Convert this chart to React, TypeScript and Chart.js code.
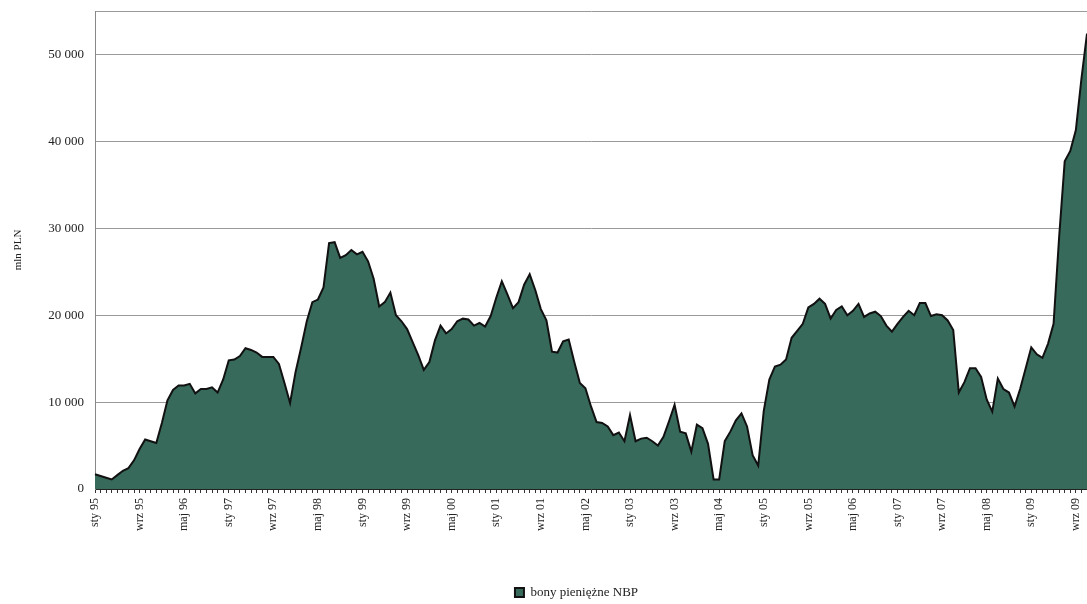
import React, { useEffect, useRef } from 'react';
import { Chart, registerables } from 'chart.js';

Chart.register(...registerables);

const MONTHS = ['sty', 'lut', 'mar', 'kwi', 'maj', 'cze', 'lip', 'sie', 'wrz', 'paź', 'lis', 'gru'];
const START_YEAR = 1995;
const LABEL_EVERY = 8;
const SERIES_LABEL = 'bony pieniężne NBP';
const Y_TITLE = 'mln PLN';
const Y_MAX = 55000;
const Y_TICKS = [0, 10000, 20000, 30000, 40000, 50000];

// Monthly values, mln PLN, from sty 95
const VALUES_1995_1998 = [
  1700, 1500, 1300, 1100, 1600, 2100, 2400, 3300, 4600, 5700, 5500, 5300,
  7600, 10200, 11400, 11900, 11900, 12100, 11000, 11500, 11500, 11700, 11100, 12600,
  14800, 14900, 15300, 16200, 16000, 15700, 15200, 15200, 15200, 14400, 12200, 9900,
  13500, 16300, 19300, 21500, 21800, 23200, 28300, 28400, 26600, 26900, 27500, 27000,
];
const VALUES_1999_2002 = [
  27300, 26200, 24200, 21000, 21500, 22600, 20000, 19300, 18400, 16900, 15400, 13700,
  14600, 17100, 18800, 17900, 18400, 19300, 19600, 19500, 18800, 19100, 18700, 19900,
  22000, 23900, 22400, 20800, 21500, 23500, 24700, 22900, 20700, 19400, 15800, 15700,
  17000, 17200, 14600, 12200, 11600, 9500, 7700, 7600, 7200, 6200, 6500, 5500,
];
const VALUES_2003_2006 = [
  8500, 5500, 5800, 5900, 5500, 5000, 6000, 7800, 9700, 6600, 6400, 4300,
  7400, 7000, 5200, 1100, 1100, 5500, 6600, 7900, 8700, 7200, 3900, 2700,
  9000, 12600, 14100, 14300, 14900, 17400, 18200, 19000, 20900, 21300, 21900, 21300,
  19600, 20600, 21000, 20000, 20500, 21300, 19800, 20200, 20400, 19900, 18800, 18100,
];
const VALUES_2007_2009 = [
  19000, 19800, 20500, 20000, 21400, 21400, 19900, 20100, 20000, 19400, 18300, 11100,
  12300, 13900, 13900, 12900, 10300, 8900, 12700, 11500, 11100, 9500, 11500, 13900,
  16300, 15500, 15100, 16700, 19000, 29000, 37700, 38900, 41300, 47200, 52400,
];

const VALUES = [...VALUES_1995_1998, ...VALUES_1999_2002, ...VALUES_2003_2006, ...VALUES_2007_2009];

const LABELS = VALUES.map((_, i) => {
  const y = (START_YEAR + Math.floor(i / 12)) % 100;
  return `${MONTHS[i % 12]} ${String(y).padStart(2, '0')}`;
});

const FILL = '#386a5c';
const SERIF = "'Liberation Serif', 'DejaVu Serif', serif";

const fmt = (v: number) => String(v).replace(/\B(?=(\d{3})+(?!\d))/g, ' ');

const legendShift = {
  id: 'legendShift',
  afterLayout(chart: any) {
    if (chart.legend) {
      chart.legend.left += 33;
      chart.legend.right += 33;
      chart.legend.top += 5;
      chart.legend.bottom += 5;
    }
  },
};

export default function App() {
  const ref = useRef<HTMLCanvasElement | null>(null);
  useEffect(() => {
    if (!ref.current) return;
    const chart = new Chart(ref.current, {
      type: 'line',
      data: {
        labels: LABELS,
        datasets: [
          {
            label: SERIES_LABEL,
            data: VALUES,
            fill: 'origin',
            backgroundColor: FILL,
            borderColor: '#111111',
            borderWidth: 2,
            pointRadius: 0,
            tension: 0,
          },
        ],
      },
      options: {
        animation: false,
        responsive: false,
        maintainAspectRatio: false,
        layout: { padding: { left: 0, right: 0, top: 11, bottom: 0 } },
        plugins: {
          legend: {
            position: 'bottom',
            labels: {
              font: { family: SERIF, size: 13 },
              color: '#222',
              boxWidth: 9,
              boxHeight: 9,
              padding: 1,
            },
          },
          tooltip: { enabled: false },
        },
        scales: {
          x: {
            grid: { drawOnChartArea: false, drawTicks: true, tickLength: 4, color: '#333' },
            border: { color: '#222', width: 1 },
            ticks: {
              autoSkip: false,
              maxRotation: 90,
              minRotation: 90,
              padding: 5,
              font: { family: SERIF, size: 12 },
              color: '#222',
              callback: (_v: any, i: number) => (i % LABEL_EVERY === 0 ? LABELS[i] : ''),
            },
            afterFit: (s: any) => {
              s.height = 91;
              s.paddingLeft = 0;
              s.paddingRight = 0;
            },
          },
          y: {
            min: 0,
            max: Y_MAX,
            ticks: {
              padding: 11,
              font: { family: SERIF, size: 13 },
              color: '#222',
              callback: (v: any) => (Y_TICKS.includes(Number(v)) ? fmt(Number(v)) : ''),
            },
            afterBuildTicks: (s: any) => {
              s.ticks = [...Y_TICKS, Y_MAX].map((v) => ({ value: v }));
            },
            grid: { color: '#9a9a9a', drawTicks: false, lineWidth: 1 },
            border: { color: '#888', width: 1 },
            title: {
              display: true,
              text: Y_TITLE,
              font: { family: SERIF, size: 11 },
              color: '#222',
              padding: { top: 12, bottom: 0 },
            },
            afterFit: (s: any) => {
              s.width = 95;
              s.paddingTop = 0;
              s.paddingBottom = 0;
            },
          },
        },
      },
      plugins: [legendShift],
    });
    return () => chart.destroy();
  }, []);
  return (
    <div style={{ position: 'absolute', left: 0, top: 0, width: 1087, height: 604, background: '#fff' }}>
      <canvas ref={ref} width={1087} height={604} style={{ display: 'block' }} />
    </div>
  );
}
